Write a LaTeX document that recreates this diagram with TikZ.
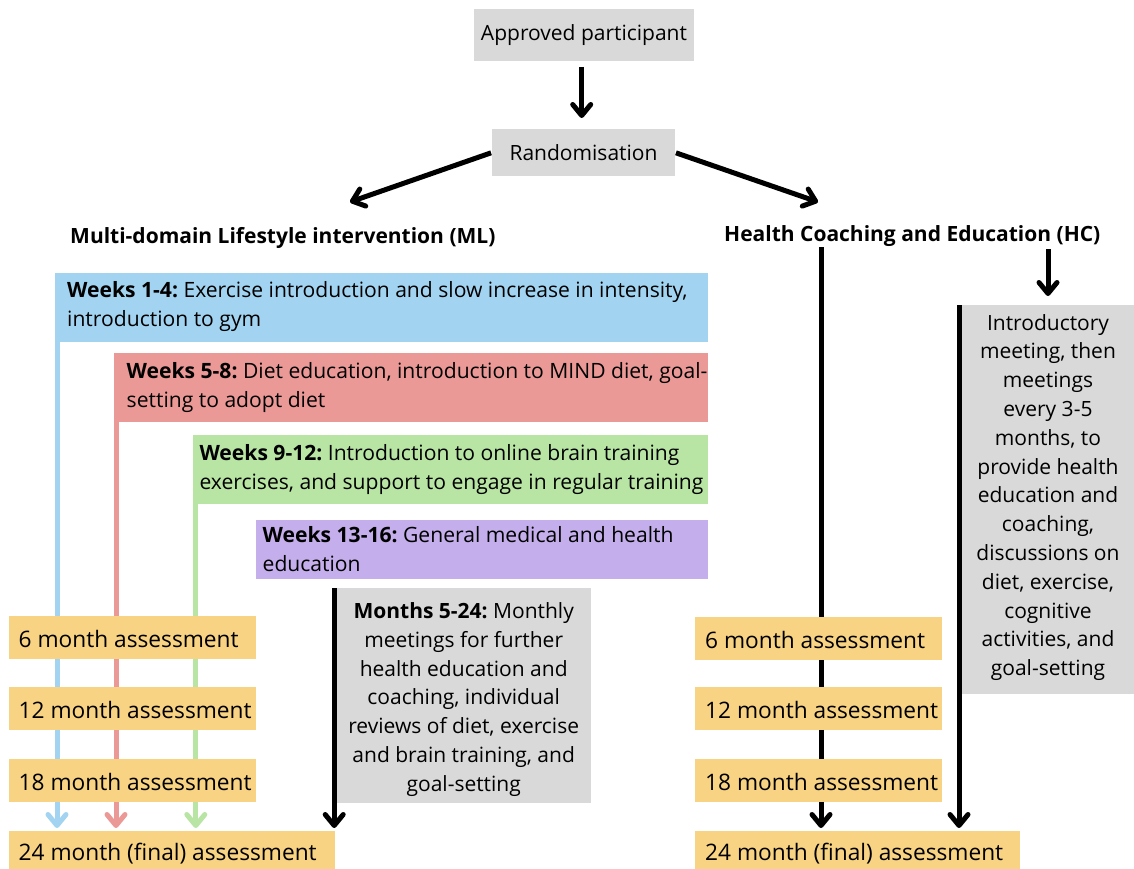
\documentclass[tikz,border=0pt]{standalone}
\usepackage{fontspec}
\setmainfont{Open Sans}
\usetikzlibrary{arrows.meta,calc}
\frenchspacing
\definecolor{boxgray}{HTML}{D9D9D9}
\definecolor{wkblue}{HTML}{A2D4F1}
\definecolor{wkred}{HTML}{EA9997}
\definecolor{wkgreen}{HTML}{B8E5A4}
\definecolor{wkpurple}{HTML}{C4AEEB}
\definecolor{assess}{HTML}{F7D383}
\pgfdeclarelayer{bg}
\pgfsetlayers{bg,main}
\tikzset{
  txt/.style={font=\fontsize{21}{28.8}\selectfont},
  ttl/.style={font=\fontsize{21}{26}\selectfont\bfseries, inner sep=0pt},
  fbox/.style={inner sep=0pt, outer sep=0pt, anchor=north west},
  wkbox/.style={fbox},
  wktext/.style={font=\fontsize{21.1}{29}\selectfont, align=left, inner sep=0pt, anchor=west},
  asbox/.style={fbox, fill=assess},
  astext/.style={font=\fontsize{22.7}{28}\selectfont, inner sep=0pt, anchor=west},
  graybox/.style={fbox, txt, fill=boxgray, align=center},
  ctext/.style={txt, align=center, inner sep=0pt},
  arr/.style={line width=5pt, -{Straight Barb[round,length=11pt,width=18pt]}},
  cline/.style={line width=5pt, draw=#1, -{Straight Barb[round,length=11pt,width=18pt]}},
}
\begin{document}
\begin{tikzpicture}[x=1pt,y=-1pt]
\useasboundingbox (0,0) rectangle (1134,869);

% top
\node[graybox, minimum width=220, minimum height=52] (appr) at (474,9) {Approved participant};
\node[graybox, minimum width=183, minimum height=47] (rand) at (492,129) {Randomisation};

% titles
\node[ttl, anchor=west] (mlt) at (70,238) {Multi-domain Lifestyle intervention (ML)};
\node[ttl, anchor=west] (hct) at (724,236.5) {Health Coaching and Education (HC)};
\coordinate (mlarr) at (350,202);
\coordinate (hcarr) at (818,202);
\coordinate (hcl) at (821,247);
\coordinate (hca) at (1048,249);

% weeks boxes
\node[wkbox, fill=wkblue, minimum width=653, minimum height=69] (wk1) at (55,272.5) {};
\node[wktext] (wk1t) at ([xshift=12pt]wk1.west)
  {\textbf{Weeks 1-4:} Exercise introduction and slow increase in intensity,\\introduction to gym};
\node[wkbox, fill=wkred, minimum width=594, minimum height=69] (wk2) at (114,353.3) {};
\node[wktext] (wk2t) at ([xshift=12.5pt]wk2.west)
  {\textbf{Weeks 5-8:} Diet education, introduction to MIND diet, goal-\\setting to adopt diet};
\node[wkbox, fill=wkgreen, minimum width=515, minimum height=69] (wk3) at (193.3,435) {};
\node[wktext] (wk3t) at ([xshift=6pt]wk3.west)
  {\textbf{Weeks 9-12:} Introduction to online brain training\\exercises, and support to engage in regular training};
\node[wkbox, fill=wkpurple, minimum width=452, minimum height=59] (wk4) at (256,520) {};
\node[wktext] (wk4t) at ([xshift=6.5pt]wk4.west)
  {\textbf{Weeks 13-16:} General medical and health\\education};

% months box
\node[graybox, minimum width=254, minimum height=215] (months) at (336.7,588) {};
\node[ctext] (monthst) at ([yshift=-4pt]months.center)
  {\textbf{Months 5-24:} Monthly\\meetings for further\\health education and\\coaching, individual\\reviews of diet, exercise\\and brain training, and\\goal-setting};

% HC box
\node[graybox, minimum width=173, minimum height=389] (intro) at (961.5,305) {};
\node[ctext] (introt) at ([yshift=2pt]intro.center)
  {Introductory\\meeting, then\\meetings\\every 3-5\\months, to\\provide health\\education and\\coaching,\\discussions on\\diet, exercise,\\cognitive\\activities, and\\goal-setting};

% assessments left
\node[asbox, minimum width=247, minimum height=43] (l6) at (9,616) {};
\node[astext] (l6t) at ([xshift=9.5pt,yshift=-1.5pt]l6.west) {6 month assessment};
\node[asbox, minimum width=247, minimum height=43] (l12) at (9,687.3) {};
\node[astext] (l12t) at ([xshift=9.5pt,yshift=-1.5pt]l12.west) {12 month assessment};
\node[asbox, minimum width=247, minimum height=43] (l18) at (9,759.3) {};
\node[astext] (l18t) at ([xshift=9.5pt,yshift=-1.5pt]l18.west) {18 month assessment};
\node[asbox, minimum width=325.5, minimum height=43] (l24) at (9,830.7) {};
\node[astext] (l24t) at ([xshift=9.5pt,yshift=-1.5pt]l24.west) {24 month (final) assessment};
% assessments right
\node[asbox, minimum width=246.5, minimum height=43] (r6) at (695,616.5) {};
\node[astext] (r6t) at ([xshift=10pt,yshift=-1.5pt]r6.west) {6 month assessment};
\node[asbox, minimum width=246.5, minimum height=43] (r12) at (695,687.3) {};
\node[astext] (r12t) at ([xshift=10pt,yshift=-1.5pt]r12.west) {12 month assessment};
\node[asbox, minimum width=246.5, minimum height=43] (r18) at (695,759.3) {};
\node[astext] (r18t) at ([xshift=10pt,yshift=-1.5pt]r18.west) {18 month assessment};
\node[asbox, minimum width=325, minimum height=43] (r24) at (695,830.7) {};
\node[astext] (r24t) at ([xshift=10pt,yshift=-1.5pt]r24.west) {24 month (final) assessment};

\begin{pgfonlayer}{bg}
\draw[arr, shorten <=6pt, shorten >=11pt] (appr.south -| 581.7,0) -- (rand.north -| 581.7,0);
\draw[arr, shorten <=1pt] (rand.west) -- (mlarr);
\draw[arr, shorten <=1pt] (rand.east) -- (hcarr);
\draw[cline=wkblue, shorten >=2.7pt] ([xshift=2pt]wk1.south west) -- ([xshift=2pt]wk1.south west |- l24.north);
\draw[cline=wkred, shorten >=2.7pt] ([xshift=2pt]wk2.south west) -- ([xshift=2pt]wk2.south west |- l24.north);
\draw[cline=wkgreen, shorten >=2.7pt] ([xshift=2.5pt]wk3.south west) -- ([xshift=2.5pt]wk3.south west |- l24.north);
\draw[arr, shorten >=2.7pt] ([xshift=-2.5pt]months.north west) -- ([xshift=-2.5pt]months.north west |- l24.north);
\draw[arr, shorten >=2.7pt] (hcl) -- (hcl |- r24.north);
\draw[arr, shorten >=9pt] (hca) -- (hca |- intro.north);
\draw[arr, shorten >=2.7pt] ([xshift=-2.5pt]intro.north west) -- ([xshift=-2.5pt]intro.north west |- r24.north);
\end{pgfonlayer}
\end{tikzpicture}
\end{document}
